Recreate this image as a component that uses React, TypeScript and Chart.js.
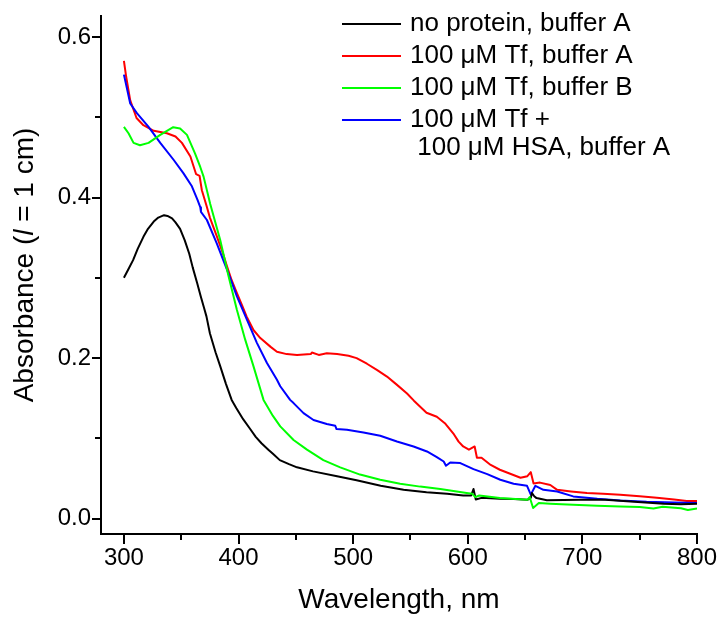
import React, { useEffect, useRef } from "react";
import { Chart, registerables } from "chart.js";
Chart.register(...registerables);

// ---- data (wavelength nm / absorbance) ----
const blackX = [300, 304, 308, 312, 317, 321, 326, 330, 335, 338, 342, 345, 349, 353, 357, 360, 364, 367, 370, 372, 375, 380, 384, 389, 394, 398, 404, 410, 415, 420, 426, 430, 436, 444, 451, 465, 486, 503, 524, 544, 564, 582, 596, 603, 605, 607, 612, 628, 640, 652, 655, 656, 658, 660, 669, 698, 720, 742, 771, 786, 800];
const blackY = [0.300, 0.311, 0.322, 0.336, 0.351, 0.361, 0.370, 0.375, 0.378, 0.377, 0.374, 0.369, 0.361, 0.347, 0.330, 0.313, 0.293, 0.277, 0.262, 0.252, 0.231, 0.207, 0.190, 0.168, 0.148, 0.138, 0.124, 0.112, 0.102, 0.094, 0.086, 0.081, 0.073, 0.068, 0.064, 0.059, 0.053, 0.048, 0.041, 0.036, 0.033, 0.031, 0.029, 0.029, 0.037, 0.024, 0.026, 0.025, 0.0245, 0.0236, 0.026, 0.032, 0.028, 0.0257, 0.023, 0.0236, 0.0235, 0.0216, 0.0187, 0.018, 0.0187];

const redX = [300, 302, 305.5, 311, 317, 326, 337.5, 345, 350.6, 358, 363, 366, 368, 372, 375, 381, 386, 390, 394, 398.6, 403, 407, 413, 419, 428, 433.5, 442, 451, 463, 464, 470, 477, 486, 496, 503, 512, 521, 529.5, 538, 547, 553, 564, 573, 580, 588, 592, 596, 601, 606, 608, 612, 620, 628, 637, 646, 652, 655, 657.4, 663, 672, 678, 690, 704, 718, 733, 750, 765, 780, 791, 800];
const redY = [0.570, 0.550, 0.521, 0.499, 0.490, 0.483, 0.480, 0.476, 0.468, 0.451, 0.429, 0.427, 0.409, 0.390, 0.375, 0.352, 0.332, 0.314, 0.297, 0.281, 0.266, 0.252, 0.235, 0.225, 0.214, 0.208, 0.205, 0.204, 0.205, 0.207, 0.204, 0.206, 0.205, 0.203, 0.200, 0.193, 0.185, 0.177, 0.167, 0.156, 0.147, 0.132, 0.127, 0.119, 0.105, 0.096, 0.090, 0.086, 0.090, 0.076, 0.076, 0.067, 0.061, 0.056, 0.051, 0.053, 0.058, 0.044, 0.045, 0.042, 0.036, 0.034, 0.032, 0.031, 0.030, 0.028, 0.026, 0.024, 0.022, 0.022];

const greenX = [300, 304, 308.4, 314, 321.5, 331.7, 343, 349, 355, 362, 366.6, 369.5, 375.3, 384, 391.3, 398.6, 405.8, 413, 421.8, 430, 436.4, 448, 459.7, 474, 488.7, 506, 523.6, 541, 558.5, 576, 599, 604, 606.5, 610, 628, 652, 654, 657, 662, 672, 692, 713, 733, 750, 762, 770, 786, 792, 800];
const greenY = [0.488, 0.480, 0.468, 0.465, 0.468, 0.478, 0.4875, 0.486, 0.478, 0.455, 0.438, 0.426, 0.392, 0.347, 0.302, 0.260, 0.223, 0.190, 0.148, 0.128, 0.115, 0.098, 0.086, 0.073, 0.064, 0.055, 0.0485, 0.0436, 0.040, 0.037, 0.032, 0.031, 0.027, 0.029, 0.0257, 0.0236, 0.027, 0.0133, 0.0195, 0.0187, 0.0174, 0.0162, 0.0153, 0.0145, 0.0128, 0.015, 0.013, 0.011, 0.0128];

const blueX = [300, 305.5, 311.3, 321.5, 331.7, 343.3, 352, 359.3, 364.2, 366.6, 367.2, 372.4, 381, 390, 398.6, 407.3, 416, 424.8, 433.5, 436.4, 445, 448, 456.7, 465.4, 477, 484.4, 485.5, 494.6, 509, 523.6, 538.2, 552.7, 564.4, 573, 579, 581, 584.7, 593.5, 605, 617, 628.4, 640, 651.7, 655, 659, 666, 678, 692, 713, 733, 756, 780, 800];
const blueY = [0.553, 0.517, 0.505, 0.488, 0.468, 0.447, 0.430, 0.414, 0.397, 0.388, 0.382, 0.372, 0.343, 0.310, 0.277, 0.248, 0.219, 0.194, 0.173, 0.165, 0.148, 0.144, 0.1315, 0.123, 0.118, 0.1157, 0.1116, 0.1108, 0.1075, 0.1033, 0.0962, 0.090, 0.0838, 0.0768, 0.0713, 0.066, 0.070, 0.0693, 0.0618, 0.0556, 0.0485, 0.0436, 0.041, 0.030, 0.041, 0.036, 0.034, 0.0278, 0.0249, 0.0228, 0.0212, 0.0203, 0.0195];

const xTicks = [300, 400, 500, 600, 700, 800];
const xMinor = [350, 450, 550, 650, 750];
const yTicks = [0, 0.2, 0.4, 0.6];
const yMinor = [0.1, 0.3, 0.5];

const seriesLabels = ["no protein, buffer A", "100 μM Tf, buffer A", "100 μM Tf, buffer B", "100 μM Tf +"];
const seriesExtraLine = " 100 μM HSA, buffer A";
const seriesColors = ["#000000", "#ff0000", "#00ff00", "#0000ff"];

const FONT = "'Liberation Sans', Arial, sans-serif";

const toPts = (xs: number[], ys: number[]) => xs.map((x, i) => ({ x, y: ys[i] }));

const extrasPlugin = {
  id: "extras",
  afterDraw(chart: any) {
    const { ctx, chartArea } = chart;
    const xs = chart.scales.x;
    const ys = chart.scales.y;
    ctx.save();
    // minor ticks
    ctx.strokeStyle = "#000";
    ctx.lineWidth = 2;
    ctx.beginPath();
    xMinor.forEach((v) => {
      const px = Math.round(xs.getPixelForValue(v));
      ctx.moveTo(px, chartArea.bottom);
      ctx.lineTo(px, chartArea.bottom + 6);
    });
    yMinor.forEach((v) => {
      const py = Math.round(ys.getPixelForValue(v));
      ctx.moveTo(chartArea.left, py);
      ctx.lineTo(chartArea.left - 6, py);
    });
    ctx.stroke();

    // legend
    ctx.font = `26px ${FONT}`;
    ctx.textBaseline = "middle";
    ctx.fillStyle = "#000";
    seriesLabels.forEach((lab, i) => {
      const yy = 24 + i * 32;
      ctx.strokeStyle = seriesColors[i];
      ctx.lineWidth = 2;
      ctx.beginPath();
      ctx.moveTo(342, yy);
      ctx.lineTo(401, yy);
      ctx.stroke();
      ctx.fillText(lab, 410, yy);
    });
    ctx.fillText(seriesExtraLine, 410, 24 + 3 * 32 + 28);

    // y title with italic l
    ctx.translate(25, 265);
    ctx.rotate(-Math.PI / 2);
    const parts: [string, string][] = [
      ["Absorbance (", `28px ${FONT}`],
      ["l", `italic 28px ${FONT}`],
      [" = 1 cm)", `28px ${FONT}`],
    ];
    let total = 0;
    parts.forEach(([t, f]) => {
      ctx.font = f;
      total += ctx.measureText(t).width;
    });
    let cx = -total / 2;
    parts.forEach(([t, f]) => {
      ctx.font = f;
      ctx.fillText(t, cx, 0);
      cx += ctx.measureText(t).width;
    });
    ctx.restore();
  },
};

export default function App() {
  const ref = useRef<HTMLCanvasElement | null>(null);
  useEffect(() => {
    document.body.style.margin = "0";
    if (!ref.current) return;
    const mk = (xs: number[], ys: number[], i: number) => ({
      label: seriesLabels[i],
      data: toPts(xs, ys),
      borderColor: seriesColors[i],
      backgroundColor: seriesColors[i],
      borderWidth: 2,
      pointRadius: 0,
      showLine: true,
      tension: 0,
      borderJoinStyle: "round" as const,
    });
    const chart = new Chart(ref.current, {
      type: "scatter",
      data: {
        datasets: [
          mk(greenX, greenY, 2),
          mk(blackX, blackY, 0),
          mk(blueX, blueY, 3),
          mk(redX, redY, 1),
        ],
      },
      options: {
        animation: false,
        responsive: false,
        layout: { padding: { top: 16, right: 22, left: 0, bottom: 0 } },
        plugins: { legend: { display: false }, tooltip: { enabled: false } },
        scales: {
          x: {
            type: "linear",
            min: 280,
            max: 800,
            afterBuildTicks: (s: any) => {
              s.ticks = xTicks.map((v) => ({ value: v }));
            },
            afterFit: (s: any) => {
              s.height = 85;
            },
            ticks: {
              color: "#000",
              font: { family: FONT, size: 24 },
              padding: 0,
              maxRotation: 0,
              autoSkip: false,
              callback: (v: any) => String(v),
            },
            grid: {
              display: true,
              drawOnChartArea: false,
              drawTicks: true,
              tickLength: 10,
              color: "#000",
              lineWidth: 2,
            },
            border: { display: true, color: "#000", width: 2 },
            title: {
              display: true,
              text: "Wavelength, nm",
              color: "#000",
              font: { family: FONT, size: 28 },
              padding: { top: 0, bottom: 2 },
            },
          },
          y: {
            type: "linear",
            min: -0.019,
            max: 0.626,
            afterBuildTicks: (s: any) => {
              s.ticks = yTicks.map((v) => ({ value: v }));
            },
            afterFit: (s: any) => {
              s.width = 101;
            },
            ticks: {
              color: "#000",
              font: { family: FONT, size: 24 },
              padding: 1,
              autoSkip: false,
              callback: (v: any) => Number(v).toFixed(1),
            },
            grid: {
              display: true,
              drawOnChartArea: false,
              drawTicks: true,
              tickLength: 9,
              color: "#000",
              lineWidth: 2,
            },
            border: { display: true, color: "#000", width: 2 },
          },
        },
      },
      plugins: [extrasPlugin],
    });
    return () => chart.destroy();
  }, []);
  return (
    <div style={{ width: 719, height: 619 }}>
      <canvas ref={ref} width={719} height={619} />
    </div>
  );
}
